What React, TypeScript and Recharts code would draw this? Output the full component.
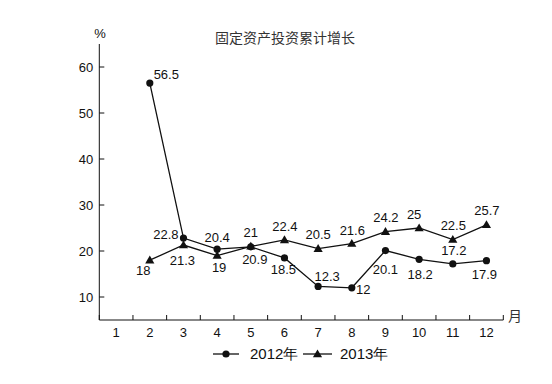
import React from 'react';
import { LineChart, Line, XAxis, YAxis, LabelList } from 'recharts';

const months = [1, 2, 3, 4, 5, 6, 7, 8, 9, 10, 11, 12];
const growth2012: (number | null)[] = [null, 56.5, 22.8, 20.4, 20.9, 18.5, 12.3, 12, 20.1, 18.2, 17.2, 17.9];
const growth2013: (number | null)[] = [null, 18, 21.3, 19, 21, 22.4, 20.5, 21.6, 24.2, 25, 22.5, 25.7];
const yTicks = [10, 20, 30, 40, 50, 60];
const seriesNames = ['2012年', '2013年'];
const titleText = '固定资产投资累计增长';
const yUnit = '%';
const xUnit = '月';

const data = months.map((m, i) => ({ month: m, s2012: growth2012[i], s2013: growth2013[i] }));

const W = 536;
const H = 368;
const LEFT = 91.3;
const RIGHT = 495.3;
const TOP = 36;
const BOTTOM = 312;
const STEP = (RIGHT - LEFT) / 12;
const YAXIS_W = 60;
const XAXIS_H = 30;
const FONT = '"Liberation Sans", Arial, Helvetica, sans-serif';
const INK = '#111';

// label placement offsets (label centre relative to the point)
const off2012: [number, number][] = [
  [0, 0], [16.5, -9], [-17.5, -4], [0, -11.5], [4, 13], [-1, 11.5],
  [9, -10], [11.5, 2], [0, 19], [1, 14.7], [1, -13], [-2, 13.6],
];
const off2013: [number, number][] = [
  [0, 0], [-6.5, 10.5], [-1, 15], [2, 11.7], [0, -14], [0.5, -14],
  [0, -14], [0.5, -13.6], [0.5, -14.4], [-5, -14], [0.5, -14.5], [0.5, -14.8],
];

const makeLabel = (offs: [number, number][]) => (props: any) => {
  const { x, y, value, index } = props;
  if (value == null || x == null || y == null) return null;
  const o = offs[index] || [0, -12];
  return (
    <text x={x + o[0]} y={y + o[1] + 4.6} textAnchor="middle" fontSize={13} fontFamily={FONT} fill={INK}>
      {value}
    </text>
  );
};

const CircleDot = (props: any) => {
  const { cx, cy, index, value } = props;
  if (cx == null || cy == null || value == null) return <g key={`c${index}`} />;
  return <circle key={`c${index}`} cx={cx} cy={cy} r={3.6} fill={INK} />;
};

const TriDot = (props: any) => {
  const { cx, cy, index, value } = props;
  if (cx == null || cy == null || value == null) return <g key={`t${index}`} />;
  const s = 4.6;
  return (
    <path
      key={`t${index}`}
      d={`M${cx},${cy - s} L${cx + s},${cy + s * 0.7} L${cx - s},${cy + s * 0.7} Z`}
      fill={INK}
    />
  );
};

const XTick = (props: any) => {
  const { x, payload } = props;
  const v = payload.value;
  const lx = x - STEP / 2;
  return (
    <g>
      <line x1={lx} y1={BOTTOM} x2={lx} y2={BOTTOM - 5} stroke={INK} strokeWidth={1} />
      {v === months[months.length - 1] && (
        <line x1={x + STEP / 2} y1={BOTTOM} x2={x + STEP / 2} y2={BOTTOM - 5} stroke={INK} strokeWidth={1} />
      )}
      <text x={x} y={BOTTOM + 17.4} textAnchor="middle" fontSize={13} fontFamily={FONT} fill={INK}>
        {v}
      </text>
    </g>
  );
};

const YTick = (props: any) => {
  const { y, payload } = props;
  return (
    <g>
      <line x1={LEFT} y1={y} x2={LEFT + 5} y2={y} stroke={INK} strokeWidth={1} />
      <text x={LEFT - 6} y={y + 4.7} textAnchor="end" fontSize={13} fontFamily={FONT} fill={INK}>
        {payload.value}
      </text>
    </g>
  );
};

export default function App() {
  return (
    <div style={{ position: 'relative', width: W, height: H }}>
      <LineChart
        width={W}
        height={H}
        data={data}
        margin={{ top: TOP, right: W - RIGHT, bottom: H - BOTTOM - XAXIS_H, left: LEFT - YAXIS_W }}
      >
        <XAxis
          dataKey="month"
          type="number"
          domain={[0.5, 12.5]}
          ticks={months}
          height={XAXIS_H}
          tickLine={false}
          axisLine={{ stroke: INK, strokeWidth: 1 }}
          tick={<XTick />}
          interval={0}
          allowDataOverflow
        />
        <YAxis
          type="number"
          domain={[5, 65]}
          ticks={yTicks}
          width={YAXIS_W}
          tickLine={false}
          axisLine={{ stroke: INK, strokeWidth: 1 }}
          tick={<YTick />}
          interval={0}
          allowDataOverflow
        />
        <Line
          dataKey="s2012"
          name={seriesNames[0]}
          stroke={INK}
          strokeWidth={1.3}
          dot={<CircleDot />}
          activeDot={false}
          isAnimationActive={false}
        >
          <LabelList dataKey="s2012" content={makeLabel(off2012)} />
        </Line>
        <Line
          dataKey="s2013"
          name={seriesNames[1]}
          stroke={INK}
          strokeWidth={1.3}
          dot={<TriDot />}
          activeDot={false}
          isAnimationActive={false}
        >
          <LabelList dataKey="s2013" content={makeLabel(off2013)} />
        </Line>
      </LineChart>
      <svg
        width={W}
        height={H}
        style={{ position: 'absolute', left: 0, top: 0, pointerEvents: 'none' }}
      >
        <text x={277} y={35} textAnchor="middle" fontSize={14} fontFamily='"Noto Sans CJK SC", sans-serif' fill="#333">
          {titleText}
        </text>
        <text x={92} y={30} textAnchor="middle" fontSize={13} fontFamily={FONT} fill={INK}>
          {yUnit}
        </text>
        <text x={500} y={313} textAnchor="start" fontSize={14} fontFamily='"Noto Sans CJK SC", sans-serif' fill="#333">
          {xUnit}
        </text>
        <g>
          <line x1={205} y1={346} x2={231} y2={346} stroke={INK} strokeWidth={1.3} />
          <circle cx={218} cy={346} r={3.6} fill={INK} />
          <text x={242} y={351.3} fontSize={15} fontFamily={FONT} fill={INK}>
            {seriesNames[0]}
          </text>
          <line x1={295} y1={346} x2={324} y2={346} stroke={INK} strokeWidth={1.3} />
          <path d="M309.5,341.4 L314.1,349.2 L304.9,349.2 Z" fill={INK} />
          <text x={332} y={351.3} fontSize={15} fontFamily={FONT} fill={INK}>
            {seriesNames[1]}
          </text>
        </g>
      </svg>
    </div>
  );
}
